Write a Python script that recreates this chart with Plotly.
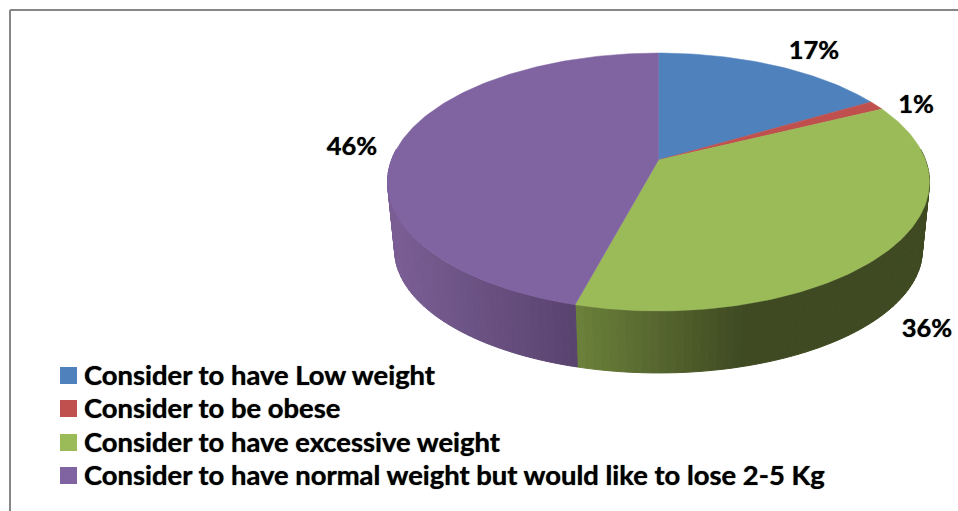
import numpy as np
import plotly.graph_objects as go

categories = ["Consider to have Low weight", "Consider to be obese", "Consider to have excessive weight",
              "Consider to have normal weight but would like to lose 2-5 Kg"]
values = [16.6, 1.2, 36.4, 45.8]
colors = ["#4f81bd", "#c0504d", "#9bbb59", "#8064a2"]
label_pos = [(814, 52.5), (916, 106.5), (927, 330.5), (352, 148.5)]
legend_y = [375.5, 408.5, 442.5, 475.5]
TEXT_DY = 2.5

W, H = 958, 511
CX = 658.5
K = 0.1705
FONT = "Lato"
SHADOW = "0 0 1px rgba(0,0,0,0.8)"


def rim(theta, b, a, y0):
    u, v = np.sin(theta), np.cos(theta)
    d = 1 + K * v
    return CX + b * u / d, y0 - a * v / d


def top(theta):
    return rim(theta, 267, 125.2, 160)


def bottom(theta):
    return rim(theta, 260, 119.4, 229)


def mix(c0, c1, t):
    t = min(max(t, 0), 1)
    return "rgb(%d,%d,%d)" % tuple(round(p + (q - p) * t) for p, q in zip(c0, c1))


def wall_color(i, x):
    if i == 2:
        return mix((107, 128, 58), (63, 74, 34), (x - 578) / 165)
    if i == 3:
        return mix((88, 66, 110), (122, 94, 148), (578 - x) / 185)
    return colors[i]


fig = go.Figure()
edges = np.concatenate([[0], np.cumsum(values)]) / sum(values) * 2 * np.pi

# side wall, drawn first
vis0, vis1 = np.radians(85), np.radians(275)
for i in range(len(values)):
    lo, hi = max(edges[i], vis0), min(edges[i + 1], vis1)
    if hi <= lo:
        continue
    n = max(2, int((hi - lo) / np.radians(1.5)))
    ts = np.linspace(lo, hi, n + 1)
    for t0, t1 in zip(ts[:-1], ts[1:]):
        x0, y0 = top(t0)
        x1, y1 = top(t1)
        x2, y2 = bottom(t1)
        x3, y3 = bottom(t0)
        c = wall_color(i, (x0 + x1) / 2)
        fig.add_trace(go.Scatter(x=[x0, x1, x2, x3, x0], y=[y0, y1, y2, y3, y0], mode="lines",
                                 fill="toself", fillcolor=c, line=dict(color=c, width=1),
                                 hoverinfo="skip", showlegend=False))

# top face
for i in range(len(values)):
    ts = np.linspace(edges[i], edges[i + 1], max(3, int((edges[i + 1] - edges[i]) / np.radians(1)) + 1))
    x, y = top(ts)
    fig.add_trace(go.Scatter(x=[CX, *x, CX], y=[160, *y, 160], mode="lines", fill="toself",
                             fillcolor=colors[i], line=dict(color=colors[i], width=0.5),
                             hoverinfo="skip", showlegend=False))

# data labels
fig.add_trace(go.Scatter(x=[p[0] for p in label_pos], y=[p[1] for p in label_pos], mode="text",
                         text=[f"{v:.0f}%" for v in values], textposition="middle center",
                         textfont=dict(family=FONT, size=25.5, color="black", weight="bold", shadow=SHADOW),
                         hoverinfo="skip", showlegend=False))

# legend swatches and labels
fig.add_trace(go.Scatter(x=[68.5] * 4, y=legend_y, mode="markers",
                         marker=dict(symbol="square", size=17, color=colors, line=dict(width=0)),
                         hoverinfo="skip", showlegend=False))
fig.add_trace(go.Scatter(x=[84] * 4, y=[v + TEXT_DY for v in legend_y], mode="text", text=categories,
                         textposition="middle right",
                         textfont=dict(family=FONT, size=27.4, color="black", weight="bold", shadow=SHADOW),
                         hoverinfo="skip", showlegend=False))

# frame
frame = dict(type="line", xref="x", yref="y", line=dict(color="#868686", width=2))
shapes = [dict(frame, x0=10, x1=10, y0=10, y1=H), dict(frame, x0=10, x1=W, y0=10, y1=10)]

fig.update_layout(
    width=W, height=H, margin=dict(l=0, r=0, t=0, b=0), autosize=False,
    paper_bgcolor="white", plot_bgcolor="white", shapes=shapes, showlegend=False,
    xaxis=dict(range=[0, W], visible=False, fixedrange=True),
    yaxis=dict(range=[H, 0], visible=False, fixedrange=True),
)
fig.write_html("out.html", config=dict(displayModeBar=False),
               post_script="document.body.style.margin='0';document.documentElement.style.overflow='hidden';")
